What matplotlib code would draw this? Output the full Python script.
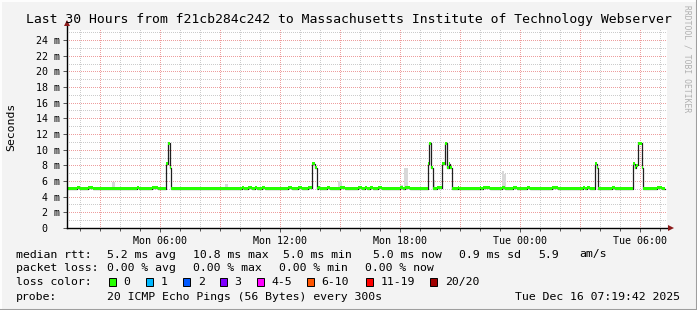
import numpy as np
import matplotlib
matplotlib.use("Agg")
import matplotlib.pyplot as plt
from matplotlib.patches import Rectangle
from matplotlib.lines import Line2D

# --- data (hours since Mon 00:00, median rtt in ms) ---
t_start, t_end = 1.3283, 31.3283   # Mon 01:19:42 .. Tue 07:19:42
med_t = [1.33, 1.85, 2.00, 2.40, 2.65, 4.85, 4.93, 5.60, 5.90,
         6.30, 6.38, 6.47, 6.55,
         10.10, 10.18, 10.40, 10.60, 10.75, 10.85, 11.10, 11.25, 12.40, 12.60,
         12.90, 13.10, 13.40,
         13.60, 13.75, 13.83,
         13.90, 14.00, 14.35, 14.50, 15.00, 15.25, 15.90, 16.10, 16.25, 16.35,
         16.50, 16.65, 16.90, 17.10, 18.00, 18.15, 18.25, 18.50,
         19.37, 19.45, 19.55, 19.63, 19.85,
         20.10, 20.23, 20.33, 20.42, 20.47, 20.57,
         20.88, 20.95, 22.00, 22.05, 22.15, 22.50, 23.10, 23.25, 23.65, 23.85,
         24.35, 24.50, 25.60, 25.90, 27.15, 27.25, 27.35, 27.50,
         27.72, 27.83, 27.88,
         28.60, 28.75,
         29.62, 29.72, 29.80, 29.87, 30.07, 30.12,
         30.85, 31.10, 31.25]
med_v = [5.0, 5.13, 5.0, 5.13, 5.0, 5.13, 5.0, 5.13, 5.0,
         8.2, 10.8, 7.7, 5.0,
         5.13, 5.0, 5.13, 5.0, 5.13, 5.0, 5.13, 5.0, 5.13, 5.0,
         5.13, 5.0, 5.13,
         8.2, 7.7, 5.0,
         5.13, 5.0, 5.13, 5.0, 5.13, 5.0, 5.13, 5.0, 5.13, 5.0,
         5.13, 5.0, 5.13, 5.0, 5.13, 5.0, 5.13, 5.0,
         8.2, 10.8, 7.7, 5.0, 5.13,
         8.2, 10.8, 7.7, 8.2, 7.7, 5.0,
         5.13, 5.0, 5.13, 5.0, 5.13, 5.0, 5.13, 5.0, 5.13, 5.0,
         5.13, 5.0, 5.13, 5.0, 5.13, 5.0, 5.13, 5.0,
         8.2, 7.7, 5.0,
         5.13, 5.0,
         8.2, 7.7, 8.0, 10.8, 7.7, 5.0,
         5.13, 5.0, 5.0]

# smoke (spread of single pings)
smoke_t0 = [3.60, 9.25, 14.90, 18.00, 18.20, 19.65, 23.10, 23.18, 28.60]
smoke_t1 = [3.75, 9.40, 15.10, 18.15, 18.40, 19.75, 23.18, 23.27, 28.75]
smoke_top = [5.85, 5.60, 6.05, 5.50, 7.65, 6.10, 7.30, 6.90, 5.40]
smoke_bottom = 4.9

x_ticks = [6, 12, 18, 24, 30]
x_labels = ["Mon 06:00", "Mon 12:00", "Mon 18:00", "Tue 00:00", "Tue 06:00"]

title = "Last 30 Hours from f21cb284c242 to Massachusetts Institute of Technology Webserver"
rtt_stats = ["5.2 ms avg", "10.8 ms max", "5.0 ms min", "5.0 ms now", "0.9 ms sd", "5.9", "am/s"]
loss_stats = ["0.00 % avg", "0.00 % max", "0.00 % min", "0.00 % now"]
loss_labels = ["0", "1", "2", "3", "4-5", "6-10", "11-19", "20/20"]
loss_colors = ["#26ff00", "#00b8ff", "#0059ff", "#7e00ff", "#ff00ff", "#ff5500", "#ff0000", "#a00000"]
probe_text = "20 ICMP Echo Pings (56 Bytes) every 300s"
stamp = "Tue Dec 16 07:19:42 2025"

# --- layout in pixels ---
W, H = 697, 310
fx = lambda x: x / W
fy = lambda y: 1 - y / H
MONO = "DejaVu Sans Mono"
BG = "#f3f3f3"

fig = plt.figure(figsize=(W / 100, H / 100), dpi=100, facecolor=BG)
left, right, top, bottom = 67, 667, 30, 228
pw, ph = right - left, bottom - top
ms_per_px = 24 / 188.0
y_top = ph * ms_per_px
ax = fig.add_axes([fx(left), fy(bottom), pw / W, ph / H])
ax.set_facecolor("white")
ax.set_xlim(t_start, t_end)
ax.set_ylim(0, y_top)
for s in ax.spines.values():
    s.set_visible(False)

# grid as a pixel image so the dots stay crisp (rrdtool style)
grid = np.zeros((ph, pw, 4))
red, gray = (0.93, 0.62, 0.62, 1), (0.80, 0.80, 0.80, 1)
for major in (False, True):
    col = red if major else gray
    for h in range(2, 32):
        if (h % 3 == 0) == major:
            c = int(round((h - t_start) / (t_end - t_start) * pw))
            grid[::2, c] = col
    for v in range(1, 26):
        if (v % 2 == 0) == major:
            r = ph - int(round(v / ms_per_px))
            if 0 <= r < ph:
                grid[r, ::2] = col
ax.imshow(grid, extent=(t_start, t_end, 0, y_top), aspect="auto",
          interpolation="nearest", origin="upper", zorder=0)

# smoke
w = np.array(smoke_t1) - np.array(smoke_t0)
ax.bar(smoke_t0, np.array(smoke_top) - smoke_bottom, width=w, bottom=smoke_bottom,
       align="edge", color="#d8d8d8", lw=0, zorder=1)

# median line + loss colour band
t = np.array(med_t)
m = np.array(med_v)
half = 0.18
ax.step(t, m, where="post", color="#202020", lw=0.9, zorder=2)
ax.fill_between(t, m - half, m + half, step="post", color=loss_colors[0], lw=0, zorder=3)

# axes lines with arrows
ax.plot([0, 1.002], [0, 0], color="black", lw=1, transform=ax.transAxes, clip_on=False, zorder=4)
ax.plot([1.006], [0], marker=">", ms=4, color="#8b1a1a", mew=0, transform=ax.transAxes, clip_on=False, zorder=4)
ax.plot([0, 0], [0, 1.03], color="black", lw=1, transform=ax.transAxes, clip_on=False, zorder=4)
ax.plot([0], [1.035], marker="^", ms=4, color="#8b1a1a", mew=0, transform=ax.transAxes, clip_on=False, zorder=4)

# ticks
ax.set_xticks(x_ticks, x_labels, fontfamily=MONO, fontsize=7.2)
ax.set_xticks(range(2, 32), minor=True)
ax.tick_params(axis="x", which="major", length=3, width=0.7, color="#555555", pad=3)
ax.tick_params(axis="x", which="minor", length=2, width=0.7, color="#555555")
y_ticks = list(range(0, 26, 2))
y_labels = ["0  "] + [f"{v} m" for v in y_ticks[1:]]
ax.set_yticks(y_ticks, y_labels, fontfamily=MONO, fontsize=7.2)
ax.tick_params(axis="y", length=3, width=0.7, color="#555555", pad=2)

# texts
fig.text(0.5, fy(19), title, ha="center", va="center", fontfamily=MONO, fontsize=9.45)
fig.text(fx(11), fy(127), "Seconds", rotation=90, ha="center", va="center",
         fontfamily=MONO, fontsize=8.25)
fig.text(fx(687.5), fy(5), "RRDTOOL / TOBI OETIKER", rotation=270, ha="center", va="top",
         fontfamily=MONO, fontsize=5.8, color="#b0b0b0")

LFS = 8.25
rows = [254.5, 268, 281.7, 296.5]
fig.text(fx(16), fy(rows[0]), "median rtt:", va="center", fontfamily=MONO, fontsize=LFS)
for x, s in zip([107, 193, 283, 373, 459, 538, 579], rtt_stats):
    fig.text(fx(x), fy(rows[0]), s, va="center", fontfamily=MONO, fontsize=LFS)
fig.text(fx(16), fy(rows[1]), "packet loss:", va="center", fontfamily=MONO, fontsize=LFS)
for x, s in zip([107, 193, 279, 365], loss_stats):
    fig.text(fx(x), fy(rows[1]), s, va="center", fontfamily=MONO, fontsize=LFS)
fig.text(fx(16), fy(rows[2]), "loss color:", va="center", fontfamily=MONO, fontsize=LFS)
box_x = [108.7, 146, 183.3, 220, 256.7, 306.7, 366, 430.3]
for bx, lab, col in zip(box_x, loss_labels, loss_colors):
    fig.add_artist(Rectangle((fx(bx), fy(rows[2] + 3.8)), 7 / W, 7.6 / H, transform=fig.transFigure,
                             facecolor=col, edgecolor="black", lw=0.7))
    fig.text(fx(bx + 14.6), fy(rows[2]), lab, va="center", fontfamily=MONO, fontsize=LFS)
fig.text(fx(16), fy(rows[3]), "probe:", va="center", fontfamily=MONO, fontsize=LFS)
fig.text(fx(107), fy(rows[3]), probe_text, va="center", fontfamily=MONO, fontsize=LFS)
fig.text(fx(680), fy(rows[3]), stamp, va="center", ha="right", fontfamily=MONO, fontsize=LFS)

# 3d frame
fig.add_artist(Line2D([0, 0, 1], [0, 1, 1], transform=fig.transFigure, color="#fdfdfd", lw=2.2))
fig.add_artist(Line2D([0, 1, 1], [0, 0, 1], transform=fig.transFigure, color="#9e9e9e", lw=2.2))

fig.savefig("out.png", dpi=100, facecolor=BG)
